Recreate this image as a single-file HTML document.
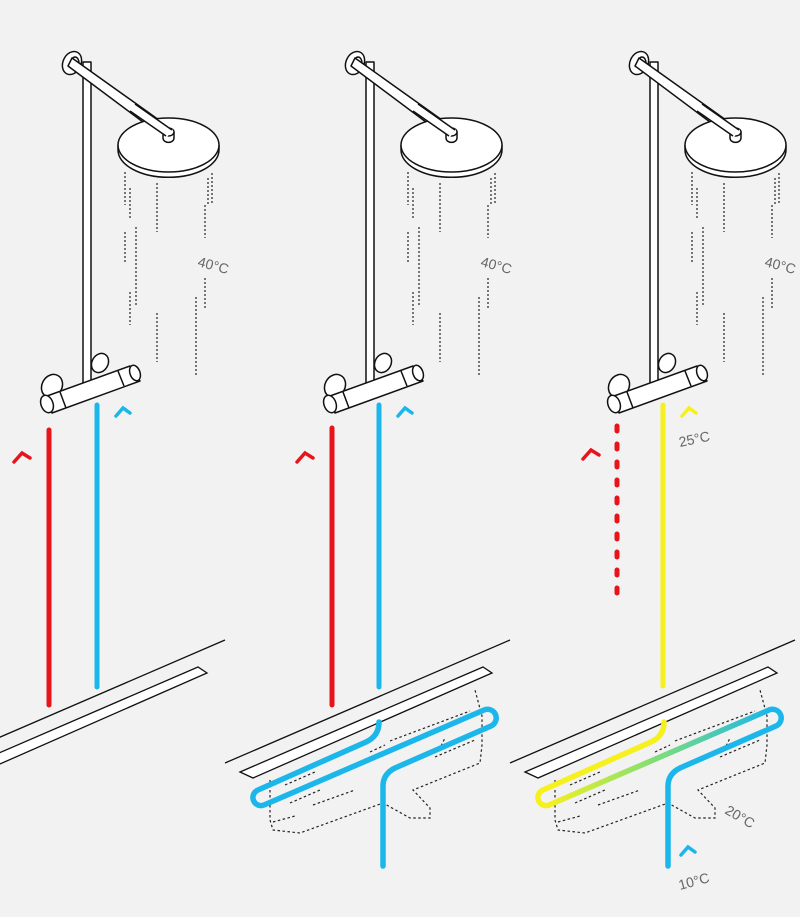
<!DOCTYPE html>
<html><head><meta charset="utf-8"><style>
html,body{margin:0;padding:0;background:#f2f2f2;}
svg{display:block;}
text{font-family:"Liberation Sans",sans-serif;fill:#666;font-size:14px;}
</style></head><body>
<svg width="800" height="917" viewBox="0 0 800 917" xmlns="http://www.w3.org/2000/svg">
<defs>
<g id="shower" fill="#fff" stroke="#111" stroke-width="1.5" stroke-linejoin="round">
  <rect x="83" y="62" width="8" height="324" />
  <ellipse cx="72" cy="63" rx="9" ry="12" transform="rotate(25 72 63)"/>
  <ellipse cx="75" cy="63" rx="4" ry="6" />
  <path d="M72,58 L173,130 L167,140 L68,66 Z"/>
  <path d="M118,145 L118,150 A50,27 0 0 0 219,150 L219,145" />
  <ellipse cx="168.5" cy="145" rx="50.5" ry="27"/>
  <path d="M163,132 L163,138 A5,4 0 0 0 174,138 L174,132 Z"/>
  <ellipse cx="168.5" cy="132" rx="5.5" ry="4"/>
  <path d="M135,104 L173,130 L167,137 L130,111 Z" stroke="none"/>
  <path d="M135,104 L172,130 M130,111 L166,136"/>
  <ellipse cx="52" cy="386" rx="10" ry="12" transform="rotate(30 52 386)"/>
  <ellipse cx="100" cy="363" rx="8" ry="10" transform="rotate(30 100 363)"/>
  <path d="M47,396 L130,366 L140,381 L52,413 Z"/>
  <ellipse cx="47" cy="404" rx="6" ry="9" transform="rotate(-20 47 404)"/>
  <path d="M60,392 L66,408 M118,371 L124,386"/>
  <ellipse cx="135" cy="373" rx="5" ry="8" transform="rotate(-20 135 373)"/>
</g>
<g id="rain" stroke="#333" stroke-width="1.3" stroke-dasharray="2,2" fill="none">
  <path d="M125,172 V205 M130,188 V220 M157,183 V232 M212,173 V205 M208,178 V205 M205,205 V238 M125,232 V263 M136,227 V305 M130,292 V325 M157,313 V362 M205,278 V310 M196,297 V376"/>
</g>
<g id="drain" fill="none" stroke="#111" stroke-width="1.3">
  <polygon points="240,772 483,667 492,673 253,778" fill="#fff"/>
  <path d="M225,763 L510,640"/>
</g>
<g id="dashbox" fill="none" stroke="#222" stroke-width="1.2" stroke-dasharray="2.5,2.5">
  <path d="M270,780 V820 L273,830 L300,833 L383,803 L410,818 L430,818 L430,808 L413,790 L480,763 L482,745 L482,716 L475,690"/>
  <path d="M273,822 L295,816 M290,803 L320,790 M313,805 L355,790 M285,785 L315,772 M370,752 L385,745 M390,741 L470,711 M405,762 L440,748 L445,738 M435,757 L475,740"/>
</g>
</defs>

<!-- Panel 1 -->
<use href="#shower"/>
<use href="#rain"/>
<text x="197" y="266" transform="rotate(15 197 266)">40°C</text>
<line x1="49" y1="430" x2="49" y2="705" stroke="#e8141c" stroke-width="5" stroke-linecap="round"/>
<line x1="97" y1="405" x2="97" y2="687" stroke="#1bb7ea" stroke-width="5" stroke-linecap="round"/>
<path d="M14,462 L22,453 L30,458" stroke="#e8141c" stroke-width="3.5" fill="none" stroke-linecap="round"/>
<path d="M116,416 L123,408 L130,413" stroke="#1bb7ea" stroke-width="3.5" fill="none" stroke-linecap="round"/>
<g transform="translate(-285,0)"><use href="#drain"/></g>

<!-- Panel 2 -->
<g transform="translate(283,0)"><use href="#shower"/><use href="#rain"/></g>
<text x="480" y="266" transform="rotate(15 480 266)">40°C</text>
<use href="#dashbox"/>
<use href="#drain"/>
<line x1="332" y1="428" x2="332" y2="705" stroke="#e8141c" stroke-width="5" stroke-linecap="round"/>
<path d="M297,462 L305,453 L313,458" stroke="#e8141c" stroke-width="3.5" fill="none" stroke-linecap="round"/>
<path d="M398,416 L405,408 L412,413" stroke="#1bb7ea" stroke-width="3.5" fill="none" stroke-linecap="round"/>
<line x1="379" y1="405" x2="379" y2="687" stroke="#1bb7ea" stroke-width="5" stroke-linecap="round"/>
<path d="M379,722 Q379,736 366,742 L258,790 A8,8 0 0 0 264,805 L484,710 A8,8 0 0 1 491,726 L395,768 Q383,774 383,786 V866" stroke="#1bb7ea" stroke-width="5.5" fill="none" stroke-linecap="round" stroke-linejoin="round"/>

<!-- Panel 3 -->
<g transform="translate(567,0)"><use href="#shower"/><use href="#rain"/></g>
<text x="764" y="266" transform="rotate(15 764 266)">40°C</text>
<g transform="translate(285,0)"><use href="#dashbox"/><use href="#drain"/></g>
<line x1="617" y1="426" x2="617" y2="598" stroke="#e8141c" stroke-width="5" stroke-dasharray="5,13" stroke-linecap="round"/>
<path d="M583,459 L591,450 L599,455" stroke="#e8141c" stroke-width="3.5" fill="none" stroke-linecap="round"/>
<line x1="663" y1="405" x2="663" y2="686" stroke="#f5f01e" stroke-width="5" stroke-linecap="round"/>
<path d="M682,416 L689,408 L696,413" stroke="#f5f01e" stroke-width="3.5" fill="none" stroke-linecap="round"/>
<text x="680" y="447" transform="rotate(-12 680 447)">25°C</text>
<defs><linearGradient id="gy" x1="549" y1="0" x2="769" y2="0" gradientUnits="userSpaceOnUse">
<stop offset="0" stop-color="#f5f01e"/><stop offset="0.45" stop-color="#86e070"/><stop offset="1" stop-color="#1bb7ea"/></linearGradient></defs>
<path d="M664,722 Q664,736 651,742 L543,790 A8,8 0 0 0 549,805" stroke="#f5f01e" stroke-width="5.5" fill="none" stroke-linecap="round"/>
<path d="M549,805 L769,710" stroke="url(#gy)" stroke-width="5.5" fill="none" stroke-linecap="round"/>
<path d="M769,710 A8,8 0 0 1 776,726 L680,768 Q668,774 668,786 V866" stroke="#1bb7ea" stroke-width="5.5" fill="none" stroke-linecap="round" stroke-linejoin="round"/>
<path d="M681,855 L688,847 L695,852" stroke="#1bb7ea" stroke-width="3.5" fill="none" stroke-linecap="round"/>
<text x="680" y="890" transform="rotate(-15 680 890)">10°C</text>
<text x="724" y="813" transform="rotate(30 724 813)">20°C</text>
</svg>
</body></html>
